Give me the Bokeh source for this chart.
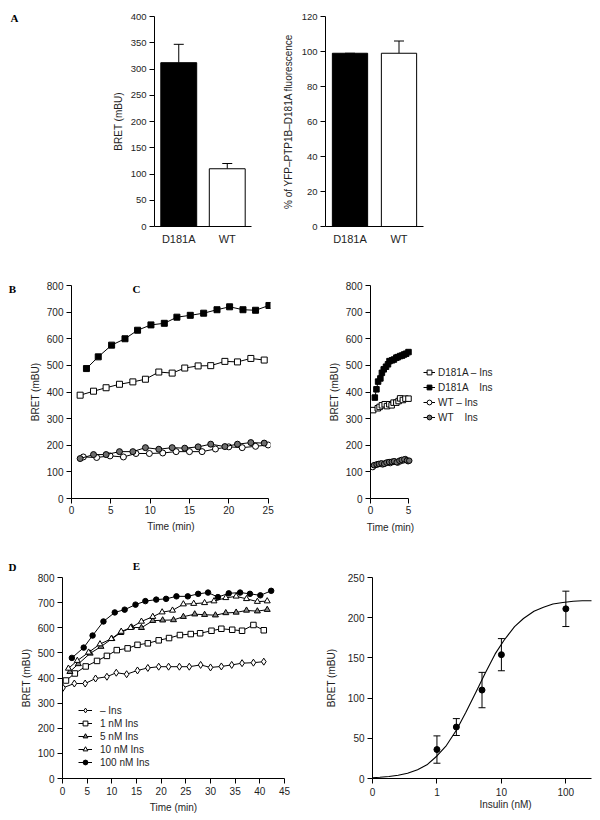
from bokeh.plotting import figure
from bokeh.models import (ColumnDataSource, Whisker, TeeHead, Legend, LegendItem,
                          Label, FixedTicker, Range1d, FactorRange)
from bokeh.layouts import column, row
from bokeh.embed import file_html
from bokeh.resources import INLINE

# ---------------- data ----------------
# Panel A
a_categories = ["D181A", "WT"]
a_bret = [312, 110]
a_bret_err = [35, 10]
a_fluo = [99, 99]
a_fluo_err = [0, 7]

# Panel B (25 min)
b_t_d181a_noins = [1.1, 2.8, 4.4, 6.1, 7.8, 9.4, 11.1, 12.8, 14.4, 16.1, 17.7, 19.5, 21.1, 22.8, 24.5]
b_v_d181a_noins = [388, 403, 416, 429, 438, 448, 475, 471, 490, 498, 499, 515, 513, 526, 520]
b_t_d181a_ins = [1.9, 3.4, 5.1, 6.8, 8.4, 10.1, 11.8, 13.4, 15.1, 16.8, 18.5, 20.1, 21.8, 23.4, 25.1]
b_v_d181a_ins = [488, 532, 576, 600, 632, 652, 658, 681, 688, 696, 709, 720, 709, 707, 725]
b_t_wt_noins = [1.5, 3.2, 4.9, 6.6, 8.2, 9.9, 11.6, 13.3, 15.0, 16.6, 18.3, 20.0, 21.7, 23.4, 25.0]
b_v_wt_noins = [156, 154, 160, 156, 169, 169, 171, 176, 176, 176, 186, 194, 191, 196, 201]
b_t_wt_ins = [1.1, 2.8, 4.4, 6.1, 7.8, 9.4, 11.1, 12.8, 14.4, 16.1, 17.7, 19.5, 21.1, 22.8, 24.5]
b_v_wt_ins = [150, 165, 165, 176, 176, 191, 185, 191, 189, 194, 204, 195, 204, 210, 208]

# Panel C (5 min)
c_t_d181a_noins = [0.35, 0.96, 1.2, 1.5, 1.87, 2.17, 2.48, 2.78, 3.04, 3.4, 3.7, 3.9, 4.26, 4.6, 5.0]
c_v_d181a_noins = [332, 339, 344, 350, 354, 347, 354, 350, 360, 360, 366, 376, 370, 375, 375]
c_t_d181a_ins = [0.57, 0.78, 1.0, 1.3, 1.5, 1.74, 2.04, 2.3, 2.5, 2.83, 3.09, 3.4, 3.6, 3.9, 4.17, 4.43, 4.7, 5.0]
c_v_d181a_ins = [379, 410, 439, 451, 472, 485, 495, 504, 516, 519, 522, 529, 531, 535, 537, 541, 544, 550]
c_t_wt_noins = [0.3, 0.6, 0.95, 1.3, 1.6, 1.95, 2.3, 2.6, 2.95, 3.3, 3.6, 3.95, 4.3, 4.6, 4.95]
c_v_wt_noins = [118, 125, 128, 130, 128, 132, 135, 133, 137, 138, 135, 140, 143, 148, 140]
c_t_wt_ins = [0.45, 0.8, 1.1, 1.45, 1.8, 2.1, 2.45, 2.8, 3.1, 3.45, 3.8, 4.1, 4.45, 4.8, 5.1]
c_v_wt_ins = [125, 128, 130, 132, 130, 135, 137, 138, 140, 136, 142, 145, 147, 143, 142]
c_labels = ["D181A \u2013 Ins", "D181A \u00a0\u00a0 Ins", "WT \u2013 Ins", "WT \u00a0\u00a0 Ins"]

# Panel D (45 min, insulin doses)
d_t_noins = [0.1, 2.4, 4.6, 6.7, 9.0, 10.9, 13.0, 15.2, 17.3, 19.5, 21.5, 23.7, 25.7, 28.0, 30.0, 32.2, 34.3, 36.4, 38.7, 40.8]
d_v_noins = [361, 378, 378, 398, 405, 421, 415, 430, 440, 445, 445, 445, 445, 452, 442, 446, 452, 459, 461, 465]
d_t_1nm = [0.7, 2.5, 4.7, 7.0, 9.0, 11.0, 13.2, 15.2, 17.3, 19.5, 21.6, 23.8, 26.0, 27.9, 30.2, 32.2, 34.4, 36.4, 38.7, 40.8]
d_v_1nm = [390, 418, 446, 468, 488, 511, 518, 532, 538, 550, 559, 571, 575, 578, 588, 596, 592, 588, 611, 590]
d_t_5nm = [1.5, 3.2, 5.6, 7.8, 10.0, 11.8, 14.0, 16.0, 18.3, 20.3, 22.5, 24.5, 26.8, 28.8, 31.0, 33.1, 35.2, 37.3, 39.5, 41.5]
d_v_5nm = [425, 456, 498, 525, 556, 580, 602, 600, 628, 630, 631, 644, 654, 652, 650, 659, 661, 669, 666, 672]
d_t_10nm = [1.2, 3.0, 5.3, 7.6, 9.9, 11.9, 13.8, 16.0, 18.3, 20.2, 22.3, 24.5, 26.6, 28.8, 30.7, 33.1, 35.2, 37.3, 39.5, 41.5]
d_v_10nm = [438, 469, 502, 535, 556, 585, 600, 625, 644, 662, 669, 694, 696, 699, 706, 719, 725, 715, 704, 706]
d_t_100nm = [1.9, 4.3, 6.1, 8.3, 10.6, 12.6, 14.8, 16.8, 19.0, 21.0, 23.1, 25.4, 27.5, 29.5, 31.5, 33.7, 36.0, 38.0, 40.1, 42.3]
d_v_100nm = [480, 521, 569, 625, 661, 672, 692, 706, 712, 715, 725, 725, 735, 740, 722, 737, 740, 735, 729, 747]
d_labels = ["\u2013 Ins", "1 nM Ins", "5 nM Ins", "10 nM Ins", "100 nM Ins"]

# Panel E (dose response)
e_conc = [1, 2, 5, 10, 100]
e_bret = [36, 64, 110, 154, 211]
e_err = [17, 10.5, 22, 20, 22]
e_fit_x = [0.1, 0.13, 0.18, 0.25, 0.35, 0.5, 0.7, 1, 1.4, 2, 2.8, 4, 5.6, 8, 11, 16, 22, 32, 45, 63, 90, 130, 180, 270]
e_fit_y = [1, 1.5, 2.5, 4, 6.5, 11, 17, 28, 41, 60, 82, 107, 131, 155, 172, 189, 199, 208, 213, 217, 219, 220.5, 221, 221]
e_xticks = [0.1, 1, 10, 100]
e_xtick_labels = ["0", "1", "10", "100"]

# ---------------- style helpers ----------------
FONT = "Liberation Sans"
TXT = "#1e1e1e"


def make_fig(w, h, left, right, top, bottom, **kw):
    p = figure(width=w, height=h, min_border_left=left, min_border_right=right,
               min_border_top=top, min_border_bottom=bottom, toolbar_location=None,
               tools="", output_backend="svg", **kw)
    p.outline_line_color = None
    p.grid.visible = False
    p.background_fill_color = "white"
    p.border_fill_color = "white"
    for ax in p.axis:
        ax.axis_line_color = "black"
        ax.axis_line_width = 1
        ax.major_tick_line_color = "black"
        ax.major_tick_out = 5
        ax.major_tick_in = 0
        ax.minor_tick_out = 0
        ax.minor_tick_in = 0
        ax.minor_tick_line_color = None
        ax.major_label_text_font = FONT
        ax.major_label_text_font_size = "10px"
        ax.major_label_text_color = TXT
        ax.axis_label_text_font = FONT
        ax.axis_label_text_font_size = "10px"
        ax.axis_label_text_font_style = "normal"
        ax.axis_label_text_color = TXT
        ax.major_label_standoff = 3
        ax.axis_label_standoff = 3
    return p


def side_label(p, text, x, y, side, serif=False):
    # annotation placed in a side panel (not clipped to the frame)
    p.add_layout(Label(x=x, y=y, x_units="screen", y_units="screen", text=text,
                       text_font="Liberation Serif" if serif else FONT,
                       text_font_style="bold" if serif else "normal",
                       text_font_size="11px" if serif else "10px",
                       text_align="center", text_baseline="middle",
                       text_color="black" if serif else TXT), side)


def letter(p, text, x, y):
    side_label(p, text, x, y, "right", serif=True)


def series(p, t, v, marker, fill, size=6):
    ln = p.line(t, v, line_color="black", line_width=1)
    sc = p.scatter(t, v, marker=marker, size=size, fill_color=fill,
                   line_color="black", line_width=1)
    return [ln, sc]


def make_legend(items, x, y, glyph_w, standoff, lh, spacing):
    lg = Legend(items=items, location=(x, y), padding=0, margin=0, spacing=spacing,
                label_height=lh, glyph_height=lh, glyph_width=glyph_w,
                label_standoff=standoff, background_fill_alpha=0,
                border_line_alpha=0, label_text_font=FONT,
                label_text_font_size="10px", label_text_color=TXT)
    return lg


# ---------------- Panel A left ----------------
a1 = make_fig(275, 270, 154, 24, 16, 44,
              x_range=FactorRange(*a_categories, range_padding=0),
              y_range=Range1d(0, 400))
src_a1 = ColumnDataSource(dict(x=a_categories, top=a_bret,
                               upper=[v + e for v, e in zip(a_bret, a_bret_err)],
                               color=["black", "white"]))
a1.vbar(x="x", top="top", width=0.74, fill_color="color", line_color="black",
        line_width=1, source=src_a1)
a1.add_layout(Whisker(base="x", lower="top", upper="upper", source=src_a1,
                      lower_head=None, upper_head=TeeHead(size=10, line_width=1),
                      line_width=1))
a1.yaxis.ticker = FixedTicker(ticks=list(range(0, 401, 50)))
a1.yaxis.axis_label = "BRET (mBU)"
a1.yaxis.axis_label_standoff = 4
a1.yaxis.major_label_text_font_size = "9.5px"
a1.xaxis.major_tick_out = 0
a1.xaxis.major_label_standoff = 6
a1.xaxis.major_label_text_font_size = "11px"
letter(a1, "A", -237, 209)

# ---------------- Panel A right ----------------
a2 = make_fig(323, 270, 50, 175, 16, 44,
              x_range=FactorRange(*a_categories, range_padding=0),
              y_range=Range1d(0, 120))
src_a2 = ColumnDataSource(dict(x=a_categories, top=a_fluo,
                               upper=[v + e for v, e in zip(a_fluo, a_fluo_err)],
                               color=["black", "white"]))
a2.vbar(x="x", top="top", width=0.72, fill_color="color", line_color="black",
        line_width=1, source=src_a2)
a2.add_layout(Whisker(base="x", lower="top", upper="upper", source=src_a2,
                      lower_head=None, upper_head=TeeHead(size=10, line_width=1),
                      line_width=1))
a2.yaxis.ticker = FixedTicker(ticks=list(range(0, 121, 20)))
a2.yaxis.axis_label = "% of YFP\u2013PTP1B\u2013D181A fluorescence"
a2.yaxis.axis_label_standoff = 5
a2.yaxis.major_label_text_font_size = "9.5px"
a2.xaxis.major_tick_out = 0
a2.xaxis.major_label_standoff = 6
a2.xaxis.major_label_text_font_size = "11px"

# ---------------- Panel B ----------------
b = make_fig(320, 275, 71, 50, 15, 47, x_range=Range1d(0, 25.3), y_range=Range1d(0, 800))
series(b, b_t_wt_noins, b_v_wt_noins, "circle", "white")
series(b, b_t_wt_ins, b_v_wt_ins, "circle", "#6e6e6e")
series(b, b_t_d181a_noins, b_v_d181a_noins, "square", "white")
series(b, b_t_d181a_ins, b_v_d181a_ins, "square", "black")
b.xaxis.bounds = (0, 25)
b.xaxis.ticker = FixedTicker(ticks=[0, 5, 10, 15, 20, 25])
b.yaxis.ticker = FixedTicker(ticks=list(range(0, 801, 100)))
b.xaxis.axis_label = "Time (min)"
b.yaxis.axis_label = "BRET (mBU)"
b.xaxis.major_label_standoff = 2
b.xaxis.axis_label_standoff = 4
letter(b, "B", -258, 210)
letter(b, "C", -141, 210)

# ---------------- Panel C ----------------
# wide frame, axis bounded to 0-5 min so the legend can sit inside the frame
c = make_fig(278, 275, 50, 8, 15, 47, x_range=Range1d(0, 28.95), y_range=Range1d(0, 800))
c_r1 = series(c, c_t_d181a_noins, c_v_d181a_noins, "square", "white", 5.5)
c_r2 = series(c, c_t_d181a_ins, c_v_d181a_ins, "square", "black", 5.5)
c_r3 = series(c, c_t_wt_noins, c_v_wt_noins, "circle", "white", 5.5)
c_r4 = series(c, c_t_wt_ins, c_v_wt_ins, "circle", "#6e6e6e", 5.5)
c.xaxis.bounds = (0, 5)
c.xaxis.ticker = FixedTicker(ticks=[0, 5])
c.yaxis.ticker = FixedTicker(ticks=list(range(0, 801, 100)))
c.yaxis.axis_label = "BRET (mBU)"
c.xaxis.major_label_standoff = 2
side_label(c, "Time (min)", 20, 0, "below")
c_items = [LegendItem(label=lab, renderers=r) for lab, r in
           zip(c_labels, [c_r1, c_r2, c_r3, c_r4])]
c.add_layout(make_legend(c_items, 53, 75, 12, 3, 12, 3))

# ---------------- Panel D ----------------
d = make_fig(320, 275, 62, 36, 21, 40, x_range=Range1d(0, 45), y_range=Range1d(0, 800))
d_r1 = series(d, d_t_noins, d_v_noins, "diamond", "white", 7)
d_r2 = series(d, d_t_1nm, d_v_1nm, "square", "white", 5.5)
d_r3 = series(d, d_t_5nm, d_v_5nm, "triangle", "#888888", 6)
d_r4 = series(d, d_t_10nm, d_v_10nm, "triangle", "white", 6)
d_r5 = series(d, d_t_100nm, d_v_100nm, "circle", "black", 5.5)
d.xaxis.ticker = FixedTicker(ticks=list(range(0, 46, 5)))
d.yaxis.ticker = FixedTicker(ticks=list(range(0, 801, 100)))
d.xaxis.axis_label = "Time (min)"
d.yaxis.axis_label = "BRET (mBU)"
d.xaxis.major_label_standoff = 3
d.xaxis.axis_label_standoff = 4
d_items = [LegendItem(label=lab, renderers=r) for lab, r in
           zip(d_labels, [d_r1, d_r2, d_r3, d_r4, d_r5])]
d.add_layout(make_legend(d_items, 16, 10, 14, 8, 12, 1))
letter(d, "D", -272, 212)
letter(d, "E", -156, 213)

# ---------------- Panel E ----------------
e = make_fig(278, 275, 52, 7, 32, 42, x_axis_type="log",
             x_range=Range1d(0.1, 250), y_range=Range1d(0, 250))
e.line(e_fit_x, e_fit_y, line_color="black", line_width=1.1)
src_e = ColumnDataSource(dict(x=e_conc, y=e_bret,
                              lo=[v - s for v, s in zip(e_bret, e_err)],
                              hi=[v + s for v, s in zip(e_bret, e_err)]))
e.add_layout(Whisker(base="x", lower="lo", upper="hi", source=src_e,
                     lower_head=TeeHead(size=7, line_width=1),
                     upper_head=TeeHead(size=7, line_width=1), line_width=1))
e.scatter("x", "y", marker="circle", size=6, fill_color="black", line_color="black", source=src_e)
e.xaxis.ticker = FixedTicker(ticks=e_xticks)
e.xaxis.major_label_overrides = {tk: lab for tk, lab in zip(e_xticks, e_xtick_labels)}
e.yaxis.ticker = FixedTicker(ticks=list(range(0, 251, 50)))
e.yaxis.axis_label = "BRET (mBU)"
e.yaxis.axis_label_standoff = 8
e.xaxis.major_label_standoff = 4
side_label(e, "Insulin (nM)", 133, 5, "below")

layout = column(row(a1, a2), row(b, c), row(d, e))
open("out.html", "w").write(file_html(layout, INLINE, "figure"))
